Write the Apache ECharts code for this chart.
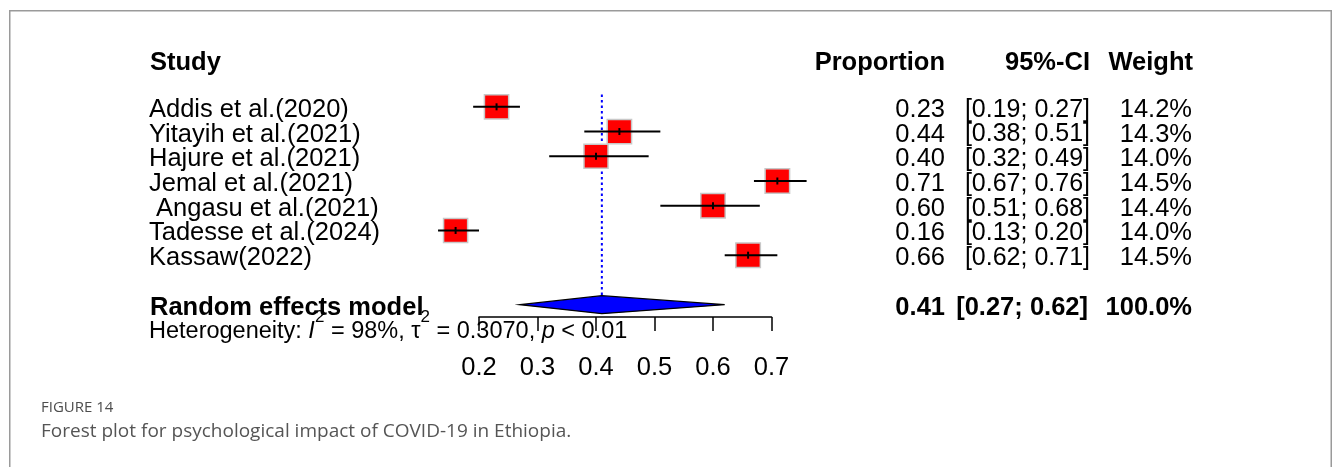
<!DOCTYPE html>
<html>
<head>
<meta charset="utf-8">
<title>Forest plot</title>
<script src="https://cdn.jsdelivr.net/npm/echarts@6/dist/echarts.min.js"></script>
<style>
  html, body { margin: 0; padding: 0; background: #ffffff; }
  #chart { width: 1333px; height: 467px; }
</style>
</head>
<body>
<div id="chart"></div>
<script>
// ---- study data ----
const studies = [
  'Addis et al.(2020)',
  'Yitayih et al.(2021)',
  'Hajure et al.(2021)',
  'Jemal et al.(2021)',
  ' Angasu et al.(2021)',
  'Tadesse et al.(2024)',
  'Kassaw(2022)'
];
const proportions = [0.23, 0.44, 0.40, 0.71, 0.60, 0.16, 0.66];
const ciLower     = [0.19, 0.38, 0.32, 0.67, 0.51, 0.13, 0.62];
const ciUpper     = [0.27, 0.51, 0.49, 0.76, 0.68, 0.20, 0.71];
const weights     = [14.2, 14.3, 14.0, 14.5, 14.4, 14.0, 14.5];

// ---- pooled (random effects) estimate ----
const pooledEstimate = 0.41;
const pooledCI = [0.27, 0.62];
const pooledWeight = 100.0;

// ---- heterogeneity statistics ----
const hetI2 = '98%';
const hetTau2 = '0.3070';
const hetP = '< 0.01';

// ---- axis ticks ----
const xTicks = [0.2, 0.3, 0.4, 0.5, 0.6, 0.7];

// ---- layout ----
const FONT = '"Liberation Sans", Arial, Helvetica, sans-serif';
const FS = 25.5;
const colStudy = 149;
const colProp = 945;
const colCI = 1090;
const colWeight = 1192;
const headerRow = -1.9;
const pooledRow = 8;
const hetRow = 9;
const boxSide = 24.5;
const textDy = 3;
const maxWeight = Math.max(...weights);

const f2 = v => v.toFixed(2);
const ciText = (lo, hi) => '[' + f2(lo) + '; ' + f2(hi) + ']';
const pctText = w => w.toFixed(1) + '%';

function txt(x, y, s, align, bold, size) {
  return {
    type: 'text',
    x: x, y: y,
    style: {
      text: s,
      fill: '#000',
      font: (bold ? 'bold ' : '') + (size || FS) + 'px ' + FONT,
      align: align,
      verticalAlign: 'middle'
    }
  };
}

const studyData = proportions.map((p, i) => [p, ciLower[i], ciUpper[i], i, weights[i]]);

const chart = echarts.init(document.getElementById('chart'), null, { renderer: 'canvas' });

chart.setOption({
  animation: false,
  backgroundColor: '#ffffff',
  grid: { left: 479, right: 1333 - 771.5, top: 45, height: 272, containLabel: false },
  xAxis: {
    type: 'value',
    min: xTicks[0],
    max: xTicks[xTicks.length - 1],
    interval: 0.1,
    axisLine: { show: true, onZero: false, lineStyle: { color: '#000', width: 1.5 } },
    axisTick: { show: true, length: 14, lineStyle: { color: '#000', width: 1.5 } },
    axisLabel: {
      color: '#000', fontSize: FS, fontFamily: FONT, margin: 38,
      formatter: v => v.toFixed(1)
    },
    splitLine: { show: false }
  },
  yAxis: {
    type: 'value', inverse: true, min: -2.5, max: 8.5, show: false
  },
  graphic: [
    {
      type: 'polyline',
      shape: { points: [[9.75, 467], [9.75, 10.75], [1331.25, 10.75], [1331.25, 467]] },
      style: { stroke: '#9a9a9a', lineWidth: 1.5, fill: null },
      silent: true
    },
    {
      type: 'text', left: 41, top: 400,
      style: { text: 'FIGURE 14', fill: '#4d4d4d', font: '15px "Open Sans", Lato, sans-serif' }
    },
    {
      type: 'text', left: 41, top: 422,
      style: { text: 'Forest plot for psychological impact of COVID-19 in Ethiopia.', fill: '#555555', font: '19px "Open Sans", Lato, sans-serif' }
    }
  ],
  series: [
    // column headers
    {
      type: 'custom',
      data: [[0.4, headerRow]],
      encode: { x: 0, y: 1 },
      clip: false,
      renderItem(params, api) {
        const y = api.coord([api.value(0), api.value(1)])[1] + textDy;
        return {
          type: 'group',
          children: [
            txt(colStudy + 1, y, 'Study', 'left', true),
            txt(colProp, y, 'Proportion', 'right', true),
            txt(colCI, y, '95%-CI', 'right', true),
            txt(colWeight + 1, y, 'Weight', 'right', true)
          ]
        };
      }
    },
    // dotted reference line at the pooled estimate
    {
      type: 'custom',
      data: [[pooledEstimate, -0.5, pooledRow]],
      encode: { x: 0, y: [1, 2] },
      clip: false,
      z: 1,
      renderItem(params, api) {
        const a = api.coord([api.value(0), api.value(1)]);
        const b = api.coord([api.value(0), api.value(2)]);
        return {
          type: 'line',
          shape: { x1: a[0], y1: a[1], x2: b[0], y2: b[1] },
          style: { stroke: '#0000ff', lineWidth: 2, lineDash: [2.5, 3] }
        };
      }
    },
    // individual studies: CI line, weighted square, text columns
    {
      type: 'custom',
      data: studyData,
      encode: { x: [0, 1, 2], y: 3 },
      clip: false,
      z: 3,
      renderItem(params, api) {
        const i = params.dataIndex;
        const est = api.value(0), lo = api.value(1), hi = api.value(2), row = api.value(3), w = api.value(4);
        const c = api.coord([est, row]);
        const l = api.coord([lo, row]);
        const h = api.coord([hi, row]);
        const side = boxSide * Math.sqrt(w / maxWeight);
        const ty = c[1] + textDy;
        return {
          type: 'group',
          children: [
            {
              type: 'rect',
              shape: { x: c[0] - side / 2, y: c[1] - side / 2, width: side, height: side },
              style: { fill: '#ff0000', stroke: '#c8c8c8', lineWidth: 1.5 }
            },
            {
              type: 'line',
              shape: { x1: l[0], y1: c[1], x2: h[0], y2: c[1] },
              style: { stroke: '#000', lineWidth: 2 }
            },
            {
              type: 'line',
              shape: { x1: c[0], y1: c[1] - 3.5, x2: c[0], y2: c[1] + 3.5 },
              style: { stroke: '#000', lineWidth: 2 }
            },
            txt(colStudy, ty, studies[i], 'left', false),
            txt(colProp, ty, f2(est), 'right', false),
            txt(colCI, ty, ciText(lo, hi), 'right', false, 25),
            txt(colWeight, ty, pctText(w), 'right', false)
          ]
        };
      }
    },
    // random effects model: diamond and summary text
    {
      type: 'custom',
      data: [[pooledEstimate, pooledCI[0], pooledCI[1], pooledRow, pooledWeight]],
      encode: { x: [0, 1, 2], y: 3 },
      clip: false,
      z: 3,
      renderItem(params, api) {
        const est = api.value(0), lo = api.value(1), hi = api.value(2), row = api.value(3), w = api.value(4);
        const c = api.coord([est, row]);
        const l = api.coord([lo, row]);
        const h = api.coord([hi, row]);
        const half = 9;
        const ty = c[1] + textDy;
        return {
          type: 'group',
          children: [
            {
              type: 'polygon',
              shape: { points: [[l[0], c[1]], [c[0], c[1] - half], [h[0], c[1]], [c[0], c[1] + half]] },
              style: { fill: '#0000ff', stroke: '#000', lineWidth: 1.2 }
            },
            txt(colStudy + 1, ty, 'Random effects model', 'left', true),
            txt(colProp, ty, f2(est), 'right', true),
            txt(colCI - 2, ty, ciText(lo, hi), 'right', true),
            txt(colWeight, ty, pctText(w), 'right', true)
          ]
        };
      }
    },
    // heterogeneity line
    {
      type: 'custom',
      data: [[0.4, hetRow]],
      encode: { x: 0, y: 1 },
      clip: false,
      renderItem(params, api) {
        const y = api.coord([api.value(0), api.value(1)])[1];
        const base = { fontSize: 23.5, fontFamily: FONT, fill: '#000' };
        const sup = { fontSize: 17, fontFamily: FONT, fill: '#000', padding: [0, 0, 28, 0] };
        return {
          type: 'text',
          x: colStudy, y: y + 2,
          style: {
            text: '{n|Heterogeneity: }{it|I}{s|2}{n| = ' + hetI2 + ', τ}{s|2}{n| = ' + hetTau2 + ', }{it|p}{n| ' + hetP + '}',
            align: 'left',
            verticalAlign: 'middle',
            rich: {
              n: base,
              it: Object.assign({}, base, { fontStyle: 'italic' }),
              s: sup
            }
          }
        };
      }
    }
  ]
});
</script>
</body>
</html>
